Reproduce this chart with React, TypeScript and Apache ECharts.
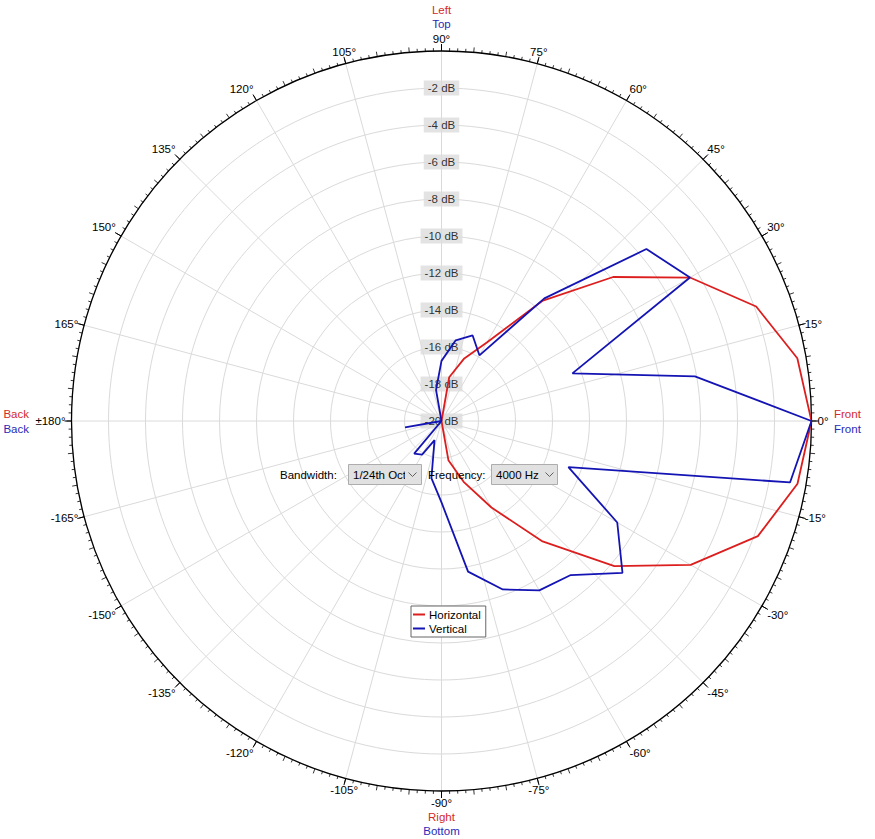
import React, { useEffect, useRef } from 'react';
import * as echarts from 'echarts';

// Angles (degrees, counter-clockwise from Front) at which the response was measured
const angles = [0, 10, 20, 30, 40, 50, 60, 70, 80, 90, 100, 110, 120, 130, 140, 150, 160, 170,
  180, 190, 200, 210, 220, 230, 240, 250, 260, 270, 280, 290, 300, 310, 320, 330, 340, 350];

// Horizontal polar response (dB) at 4000 Hz
const horizontal = [0, -0.47, -1.9, -4.49, -7.89, -11.53, -15.1, -16.4, -17.6, -20, -20, -20, -20, -20, -20, -20, -20, -20,
  -20, -20, -20, -20, -20, -20, -20, -20, -20, -20, -17.85, -16.5, -14.6, -11.5, -7.8, -4.45, -1.8, -0.46];

// Vertical polar response (dB) at 4000 Hz
const vertical = [0, -6.09, -12.47, -4.49, -5.54, -11.35, -15.9, -15.08, -15.57, -16.75, -18.3, -20, -20, -20, -20, -20, -20, -20,
  -20, -18.0, -20, -20, -20, -17.7, -17.9, -18.9, -16.86, -15.6, -11.73, -10.31, -9.43, -9.13, -7.23, -9.03, -12.7, -0.87];

// Radial dB ring labels
const dbLabels = [-2, -4, -6, -8, -10, -12, -14, -16, -18, -20];

const seriesNames = ['Horizontal', 'Vertical'];
const FONT = 'Liberation Sans, Arial, sans-serif';

const CX = 441.5;
const CY = 421;
const R = 370;
const RED = '#dc1e1e';
const BLUE = '#1414b4';
const RED_TXT = '#d42a2a';
const BLUE_TXT = '#2a2ab8';

function angleLabel(v: number): string {
  const a = ((v % 360) + 360) % 360;
  if (a === 180) return '\u00b1180\u00b0';
  if (a <= 180) return a + '\u00b0';
  return '-' + (360 - a) + '\u00b0';
}

function closed(vals: number[]) {
  const d = angles.map((a, i) => [vals[i], a]);
  d.push([vals[0], 360]);
  return d;
}

function txt(text: string, x: number, y: number, fill: string, align: string) {
  return {
    type: 'text',
    z: 100,
    style: {
      text, x, y, fill,
      font: '11.5px ' + FONT,
      align, textAlign: align,
      verticalAlign: 'middle', textVerticalAlign: 'middle',
    },
  };
}

export default function App() {
  const ref = useRef<HTMLDivElement>(null);

  useEffect(() => {
    if (!ref.current) return;
    const chart = echarts.init(ref.current, null, { renderer: 'svg' });

    const option: any = {
      animation: false,
      backgroundColor: '#ffffff',
      textStyle: { fontFamily: FONT, fontSize: 11.5 },
      polar: [
        { center: [CX, CY], radius: R },
        { center: [CX, CY], radius: R },
      ],
      angleAxis: [
        {
          polarIndex: 0,
          type: 'value',
          min: 0,
          max: 360,
          interval: 15,
          startAngle: 0,
          clockwise: false,
          axisLine: { show: true, lineStyle: { color: '#000', width: 1.3 } },
          axisTick: { show: true, length: 7, lineStyle: { color: '#000', width: 1 } },
          axisLabel: {
            show: true, margin: 6, color: '#000', fontSize: 11.5, fontFamily: FONT,
            formatter: (v: number) => angleLabel(v),
          },
          splitLine: { show: true, lineStyle: { color: '#dadada', width: 1 } },
        },
        {
          polarIndex: 1,
          type: 'value',
          min: 0,
          max: 360,
          interval: 5,
          startAngle: 0,
          clockwise: false,
          axisLine: { show: false },
          axisTick: { show: true, length: 5, lineStyle: { color: '#000', width: 0.8 } },
          minorTick: { show: true, splitNumber: 4, length: 3, lineStyle: { color: '#000', width: 0.8 } },
          axisLabel: { show: false },
          splitLine: { show: false },
        },
      ],
      radiusAxis: [
        {
          polarIndex: 0,
          type: 'value',
          min: -20,
          max: 0,
          interval: 2,
          axisLine: { show: false },
          axisTick: { show: false },
          axisLabel: { show: false },
          splitLine: { show: true, lineStyle: { color: '#dadada', width: 1 } },
        },
        {
          polarIndex: 1,
          type: 'value',
          min: -20,
          max: 0,
          axisLine: { show: false },
          axisTick: { show: false },
          axisLabel: { show: false },
          splitLine: { show: false },
        },
      ],
      legend: {
        data: seriesNames,
        orient: 'vertical',
        left: 411,
        top: 606,
        padding: [2, 5, 2, 2],
        itemGap: 1,
        itemWidth: 12,
        itemHeight: 2,
        icon: 'rect',
        borderColor: '#666',
        borderWidth: 1,
        backgroundColor: '#fff',
        textStyle: { fontSize: 11.5, fontFamily: FONT, color: '#000', lineHeight: 13, padding: [0, 0, 0, -1] },
        selectedMode: false,
        z: 50,
      },
      series: [
        {
          name: 'dB labels',
          type: 'scatter',
          coordinateSystem: 'polar',
          polarIndex: 0,
          z: 1,
          silent: true,
          symbolSize: 1,
          itemStyle: { color: 'rgba(0,0,0,0)' },
          data: dbLabels.map((v) => [v, 90]),
          label: {
            show: true,
            position: 'inside',
            formatter: (p: any) => p.value[0] + ' dB',
            color: '#000',
            fontSize: 11.5,
            fontFamily: FONT,
            backgroundColor: '#dcdcdc',
            padding: [2, 4, 1, 4],
          },
          labelLayout: { hideOverlap: false },
        },
        {
          name: seriesNames[0],
          type: 'line',
          coordinateSystem: 'polar',
          polarIndex: 0,
          z: 3,
          symbol: 'none',
          silent: true,
          lineStyle: { color: RED, width: 1.8 },
          itemStyle: { color: RED },
          data: closed(horizontal),
        },
        {
          name: seriesNames[1],
          type: 'line',
          coordinateSystem: 'polar',
          polarIndex: 0,
          z: 4,
          symbol: 'none',
          silent: true,
          lineStyle: { color: BLUE, width: 1.8 },
          itemStyle: { color: BLUE },
          data: closed(vertical),
        },
      ],
      graphic: [
        txt('Left', CX, 10, RED_TXT, 'center'),
        txt('Top', CX, 24, BLUE_TXT, 'center'),
        txt('Right', CX, 817, RED_TXT, 'center'),
        txt('Bottom', CX, 831, BLUE_TXT, 'center'),
        txt('Front', 834, 414, RED_TXT, 'left'),
        txt('Front', 834, 429, BLUE_TXT, 'left'),
        txt('Back', 29, 414, RED_TXT, 'right'),
        txt('Back', 29, 429, BLUE_TXT, 'right'),
        txt('Bandwidth:', 280, 474.5, '#000', 'left'),
        {
          type: 'rect', z: 100,
          shape: { x: 348.5, y: 464.5, width: 73, height: 20 },
          style: { fill: '#e1e1e1', stroke: '#adadad', lineWidth: 1 },
        },
        txt('1/24th Oct', 353, 474.5, '#000', 'left'),
        {
          type: 'rect', z: 101,
          shape: { x: 405, y: 466, width: 15, height: 17 },
          style: { fill: '#e1e1e1' },
        },
        {
          type: 'polyline', z: 102,
          shape: { points: [[408.5, 472.5], [412.5, 476.5], [416.5, 472.5]] },
          style: { stroke: '#606060', lineWidth: 1, fill: null },
        },
        txt('Frequency:', 428, 474.5, '#000', 'left'),
        {
          type: 'rect', z: 100,
          shape: { x: 491.5, y: 464.5, width: 66, height: 20 },
          style: { fill: '#e1e1e1', stroke: '#adadad', lineWidth: 1 },
        },
        txt('4000 Hz', 496, 474.5, '#000', 'left'),
        {
          type: 'polyline', z: 102,
          shape: { points: [[545.5, 472.5], [549.5, 476.5], [553.5, 472.5]] },
          style: { stroke: '#606060', lineWidth: 1, fill: null },
        },
      ],
    };

    chart.setOption(option);
    return () => chart.dispose();
  }, []);

  return (
    <div
      ref={ref}
      style={{ position: 'fixed', left: 0, top: 0, width: 875, height: 839, background: '#fff' }}
    />
  );
}
